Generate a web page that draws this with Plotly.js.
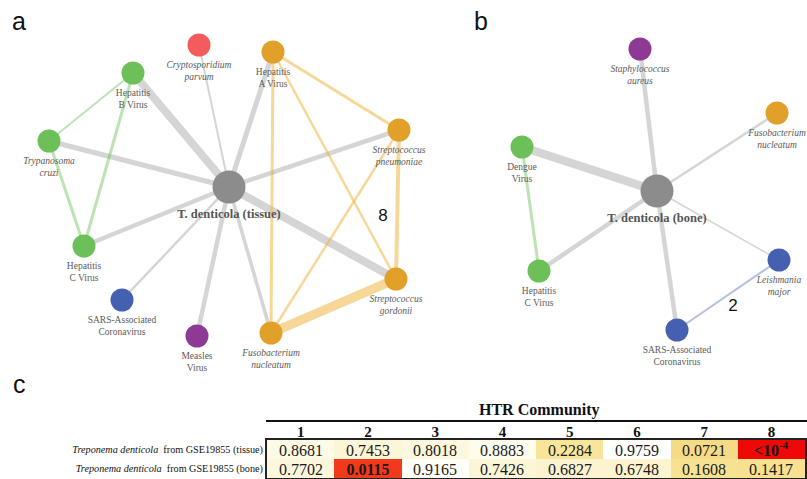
<!DOCTYPE html>
<html>
<head>
<meta charset="utf-8">
<script src="https://cdn.plot.ly/plotly-3.0.1.min.js"></script>
<style>
  html, body { margin: 0; padding: 0; background: #ffffff; }
  #chart { width: 807px; height: 479px; }
</style>
</head>
<body>
<div id="chart"></div>
<script>
// ---------- Panel a: T. denticola (tissue) and its HTR neighbours ----------
const tissueNames = [
  "<b>T. denticola (tissue)</b>",
  "<i>Cryptosporidium</i><br><i>parvum</i>",
  "Hepatitis<br>A Virus",
  "Hepatitis<br>B Virus",
  "<i>Trypanosoma</i><br><i>cruzi</i>",
  "Hepatitis<br>C Virus",
  "SARS-Associated<br>Coronavirus",
  "Measles<br>Virus",
  "<i>Fusobacterium</i><br><i>nucleatum</i>",
  "<i>Streptococcus</i><br><i>gordonii</i>",
  "<i>Streptococcus</i><br><i>pneumoniae</i>"
];
const tissueX = [229, 199, 273, 133, 49, 84, 122, 197, 271, 396, 399];
const tissueY = [187, 45, 52, 73, 141, 246, 300, 336, 333, 279, 130];
const tissueGroup = ["hub", "red", "orange", "green", "green", "green", "blue", "purple", "orange", "orange", "orange"];
// edges: index pairs and association strength
const tissueFrom = [0, 0, 0, 0, 0, 0, 0, 0, 0, 0, 3, 3, 4, 2, 2, 2, 10, 10, 9];
const tissueTo   = [3, 1, 2, 4, 5, 6, 7, 8, 9, 10, 4, 5, 5, 10, 8, 9, 8, 9, 8];
const tissueWeight = [8, 2, 5, 5, 4.5, 2.5, 4.5, 3.5, 8, 4.5, 2, 3, 3, 3, 3, 2.5, 2.5, 4, 9];

// ---------- Panel b: T. denticola (bone) and its HTR neighbours ----------
const boneNames = [
  "<b>T. denticola (bone)</b>",
  "<i>Staphylococcus</i><br><i>aureus</i>",
  "<i>Fusobacterium</i><br><i>nucleatum</i>",
  "Dengue<br>Virus",
  "Hepatitis<br>C Virus",
  "<i>Leishmania</i><br><i>major</i>",
  "SARS-Associated<br>Coronavirus"
];
const boneX = [657, 640, 777, 522, 539, 779, 677];
const boneY = [191, 49, 113, 147, 271, 260, 330];
const boneGroup = ["hub", "purple", "orange", "green", "green", "blue", "blue"];
const boneFrom = [0, 0, 0, 0, 0, 0, 3, 6];
const boneTo   = [1, 2, 3, 4, 5, 6, 4, 5];
const boneWeight = [4.5, 2.5, 8.5, 4.5, 1.5, 4.5, 3, 2];

// community tags next to each network
const tagText = ["8", "2"];
const tagX = [383, 733];
const tagY = [217, 307];

// ---------- Panel c: enrichment p-values per HTR community ----------
const communities = [1, 2, 3, 4, 5, 6, 7, 8];
const sampleLabels = [
  "<i>Treponema denticola</i>  from GSE19855 (tissue)",
  "<i>Treponema denticola</i>  from GSE19855 (bone)"
];
const tissueP = [0.8681, 0.7453, 0.8018, 0.8883, 0.2284, 0.9759, 0.0721, 0.0001];
const boneP   = [0.7702, 0.0115, 0.9165, 0.7426, 0.6827, 0.6748, 0.1608, 0.1417];

// ---------- styling ----------
const groupColor = {
  hub: "#8c8c8c", red: "#f35b5d", orange: "#e0a02a",
  green: "#6cbf59", blue: "#4560b0", purple: "#8e3a95"
};
const edgeColor = {
  hub: "rgba(150,150,150,0.40)", red: "rgba(243,91,93,0.45)", orange: "rgba(240,175,50,0.50)",
  green: "rgba(108,191,89,0.45)", blue: "rgba(69,96,176,0.40)", purple: "rgba(142,58,149,0.45)"
};
const serif = "Liberation Serif, Times New Roman, serif";
const sans = "Liberation Sans, Arial, sans-serif";

function networkTraces(names, xs, ys, groups, from, to, weight) {
  const traces = [];
  for (let k = 0; k < from.length; k++) {
    const a = from[k], b = to[k];
    const g = (groups[a] === "hub" || groups[b] === "hub") ? "hub" : groups[a];
    traces.push({
      type: "scatter", mode: "lines", xaxis: "x", yaxis: "y",
      x: [xs[a], xs[b]], y: [ys[a], ys[b]],
      line: { color: edgeColor[g], width: weight[k] },
      hoverinfo: "skip", showlegend: false
    });
  }
  traces.push({
    type: "scatter", mode: "markers+text", xaxis: "x", yaxis: "y",
    x: xs, y: ys, text: names, textposition: "bottom center",
    cliponaxis: false,
    marker: {
      color: groups.map(g => groupColor[g]),
      size: groups.map(g => g === "hub" ? 33 : 23),
      opacity: 1,
      line: { width: 0 }
    },
    textfont: {
      family: serif,
      size: groups.map(g => g === "hub" ? 12.5 : 9.5),
      color: groups.map(g => g === "hub" ? "#555555" : "#5a5a5a")
    },
    hoverinfo: "skip", showlegend: false
  });
  return traces;
}

const data = [
  ...networkTraces(tissueNames, tissueX, tissueY, tissueGroup, tissueFrom, tissueTo, tissueWeight),
  ...networkTraces(boneNames, boneX, boneY, boneGroup, boneFrom, boneTo, boneWeight),
  {
    type: "scatter", mode: "text", xaxis: "x", yaxis: "y",
    x: tagX, y: tagY, text: tagText, cliponaxis: false,
    textfont: { family: sans, size: 17, color: "#111111" },
    hoverinfo: "skip", showlegend: false
  }
];

// p-value table drawn as a heatmap
const pRows = [tissueP, boneP];
const cellText = pRows.map(row => row.map(p => {
  if (p < 0.001) return "<b>&lt;10<sup>-4</sup></b>";
  const s = p.toFixed(4);
  return p < 0.05 ? "<b>" + s + "</b>" : s;
}));
data.push({
  type: "heatmap", xaxis: "x2", yaxis: "y2",
  x: communities, y: [1, 2], z: pRows,
  text: cellText, texttemplate: "%{text}",
  textfont: { family: serif, size: 16, color: "#1a1a1a" },
  zmin: 0, zmax: 1, showscale: false, hoverinfo: "skip",
  colorscale: [
    [0, "#ee0808"], [0.012, "#f23b1d"], [0.05, "#f5d67c"], [0.075, "#f6dc88"],
    [0.15, "#f7e191"], [0.23, "#f8e59a"], [0.68, "#fcf3d0"], [0.75, "#fcf6da"],
    [0.87, "#fdfbe6"], [0.92, "#fffef8"], [1, "#ffffff"]
  ],
  xgap: 0, ygap: 0
});

const W = 807, H = 479;
const layout = {
  width: W, height: H,
  margin: { l: 0, r: 0, t: 0, b: 0 },
  paper_bgcolor: "#ffffff", plot_bgcolor: "rgba(0,0,0,0)",
  showlegend: false,
  xaxis: { domain: [0, 1], range: [0, W], visible: false, fixedrange: true },
  yaxis: { domain: [0, 1], range: [H, 0], visible: false, fixedrange: true },
  xaxis2: {
    domain: [267 / W, 805 / W], range: [0.5, 8.5], anchor: "y2",
    side: "top", tickvals: communities, ticktext: communities.map(String),
    tickfont: { family: serif, size: 15, color: "#111111", weight: "bold" },
    ticklabelstandoff: -5,
    ticks: "", showgrid: false, zeroline: false,
    showline: true, mirror: true, linecolor: "#222222", linewidth: 1.8
  },
  yaxis2: {
    domain: [1 / H, 39 / H], range: [2.5, 0.5], anchor: "x2",
    tickvals: [1, 2], ticktext: sampleLabels,
    tickfont: { family: serif, size: 10.2, color: "#111111" },
    ticks: "", showgrid: false, zeroline: false,
    showline: true, mirror: true, linecolor: "#222222", linewidth: 2
  },
  shapes: [
    { type: "line", xref: "paper", yref: "paper", x0: 266 / W, x1: 1, y0: (H - 421) / H, y1: (H - 421) / H,
      line: { color: "#111111", width: 2 } }
  ],
  annotations: [
    { text: "a", x: 19 / W, y: 1 - 21 / H, xref: "paper", yref: "paper", showarrow: false,
      font: { family: sans, size: 25, color: "#111111" }, xanchor: "center", yanchor: "middle" },
    { text: "b", x: 481 / W, y: 1 - 21 / H, xref: "paper", yref: "paper", showarrow: false,
      font: { family: sans, size: 25, color: "#111111" }, xanchor: "center", yanchor: "middle" },
    { text: "c", x: 19 / W, y: 1 - 384 / H, xref: "paper", yref: "paper", showarrow: false,
      font: { family: sans, size: 25, color: "#111111" }, xanchor: "center", yanchor: "middle" },
    { text: "<b>HTR Community</b>", x: 539 / W, y: 1 - 410 / H, xref: "paper", yref: "paper", showarrow: false,
      font: { family: serif, size: 16, color: "#111111" }, xanchor: "center", yanchor: "middle" }
  ]
};

Plotly.newPlot("chart", data, layout, { staticPlot: true, displayModeBar: false });
</script>
</body>
</html>
